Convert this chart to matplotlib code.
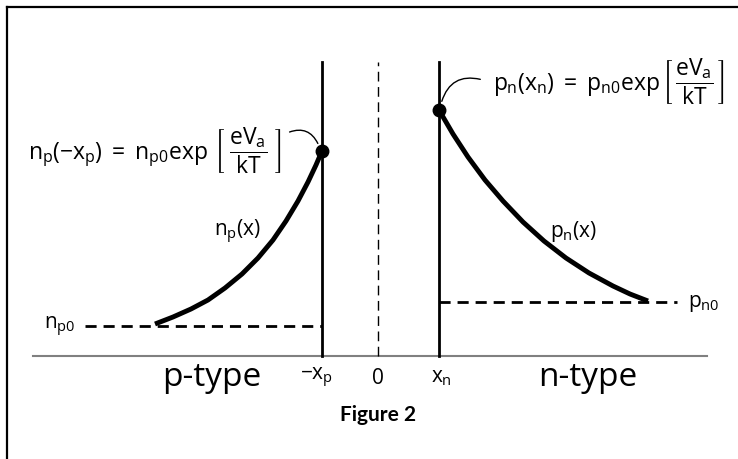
import matplotlib
matplotlib.use("Agg")
import matplotlib.pyplot as plt
from matplotlib.lines import Line2D

plt.rcParams['font.family'] = ['Open Sans', 'DejaVu Sans']
plt.rcParams['mathtext.fontset'] = 'custom'
plt.rcParams['mathtext.rm'] = 'Open Sans'
plt.rcParams['mathtext.it'] = 'Open Sans'
plt.rcParams['mathtext.bf'] = 'Open Sans:bold'
plt.rcParams['mathtext.fallback'] = 'stix'

# junction edges (x = 0 is the metallurgical junction)
x_p = 56
x_n = 61

# equilibrium minority carrier levels
n_p0 = 30
p_n0 = 54

# minority electrons on the p side
np_x = [-223, -205, -187, -170, -153, -136, -120, -105, -92, -80, -70, -62, -56]
np_val = [32, 39, 47, 56, 68, 82, 98, 116, 135, 155, 174, 191, 205]

# minority holes on the n side
pn_x = [61, 75, 90, 107, 125, 145, 166, 188, 211, 235, 252, 270]
pn_val = [246, 222, 199, 176, 155, 134, 115, 98, 83, 70, 62, 55]

tick_pos = [-x_p, 0, x_n]
tick_labels = [r'$-x_p$', '0', r'$x_n$']

fig = plt.figure(figsize=(7.38, 4.59), dpi=100)
ax = fig.add_axes([0, 0, 1, 1])
ax.set_xlim(-378, 360)
ax.set_ylim(-103, 356)
ax.axis('off')

# frame on the top and left edges
fig.add_artist(Line2D([7 / 738, 1], [1 - 7 / 459, 1 - 7 / 459], color='black', lw=1.6))
fig.add_artist(Line2D([7 / 738, 7 / 738], [0, 1 - 7 / 459], color='black', lw=1.6))

# position axis
ax.plot([-345, 329], [0, 0], color='#808080', lw=1.5)

# depletion edges and junction
ax.plot([-x_p, -x_p], [0, 294], color='black', lw=2)
ax.plot([x_n, x_n], [0, 294], color='black', lw=2)
ax.plot([0, 0], [0, 294], color='black', lw=1, dashes=(7, 4))

# equilibrium levels
ax.plot([-293, -x_p], [n_p0, n_p0], color='black', lw=2, dashes=(4, 2.5))
ax.plot([x_n, 299], [p_n0, p_n0], color='black', lw=2, dashes=(4, 2.5))

# carrier profiles
ax.plot(np_x, np_val, color='black', lw=3.5, solid_capstyle='butt', solid_joinstyle='round')
ax.plot(pn_x, pn_val, color='black', lw=3.5, solid_capstyle='butt', solid_joinstyle='round')
ax.plot(np_x[-1], np_val[-1], 'o', color='black', ms=9)
ax.plot(pn_x[0], pn_val[0], 'o', color='black', ms=9)

# boundary values
ax.text(-350, 205, r'$n_p(-x_p)\;=\;n_{p0}\exp\,\left[\;\dfrac{eV_a}{kT}\;\right]$',
        fontsize=16.5, ha='left', va='center')
ax.text(115, 274, r'$p_n(x_n)\;=\;p_{n0}\exp\left[\,\dfrac{eV_a}{kT}\,\right]$',
        fontsize=16.5, ha='left', va='center')
ax.annotate('', xy=(-59, 210), xytext=(-91, 223),
            arrowprops=dict(arrowstyle='-', lw=1, connectionstyle='arc3,rad=-0.5'))
ax.annotate('', xy=(63, 252), xytext=(105, 276),
            arrowprops=dict(arrowstyle='-', lw=1, connectionstyle='arc3,rad=0.5'))

ax.text(-141, 124, r'$n_p(x)$', fontsize=15, ha='center', va='center')
ax.text(195, 124, r'$p_n(x)$', fontsize=15, ha='center', va='center')
ax.text(-318, 29, r'$n_{p0}$', fontsize=15, ha='center', va='center')
ax.text(310, 53, r'$p_{n0}$', fontsize=15, ha='left', va='center')

for pos, lab in zip(tick_pos, tick_labels):
    ax.text(pos - (6 if pos < 0 else -2 if pos > 0 else 0), -22, lab,
            fontsize=15, ha='center', va='center')

ax.text(-166, -22, 'p-type', fontsize=24, ha='center', va='center')
ax.text(210, -22, 'n-type', fontsize=24, ha='center', va='center')
ax.text(0, -59, 'Figure 2', fontsize=15, fontweight='bold', ha='center', va='center',
        family='Lato')

fig.savefig('out.png', dpi=100)
